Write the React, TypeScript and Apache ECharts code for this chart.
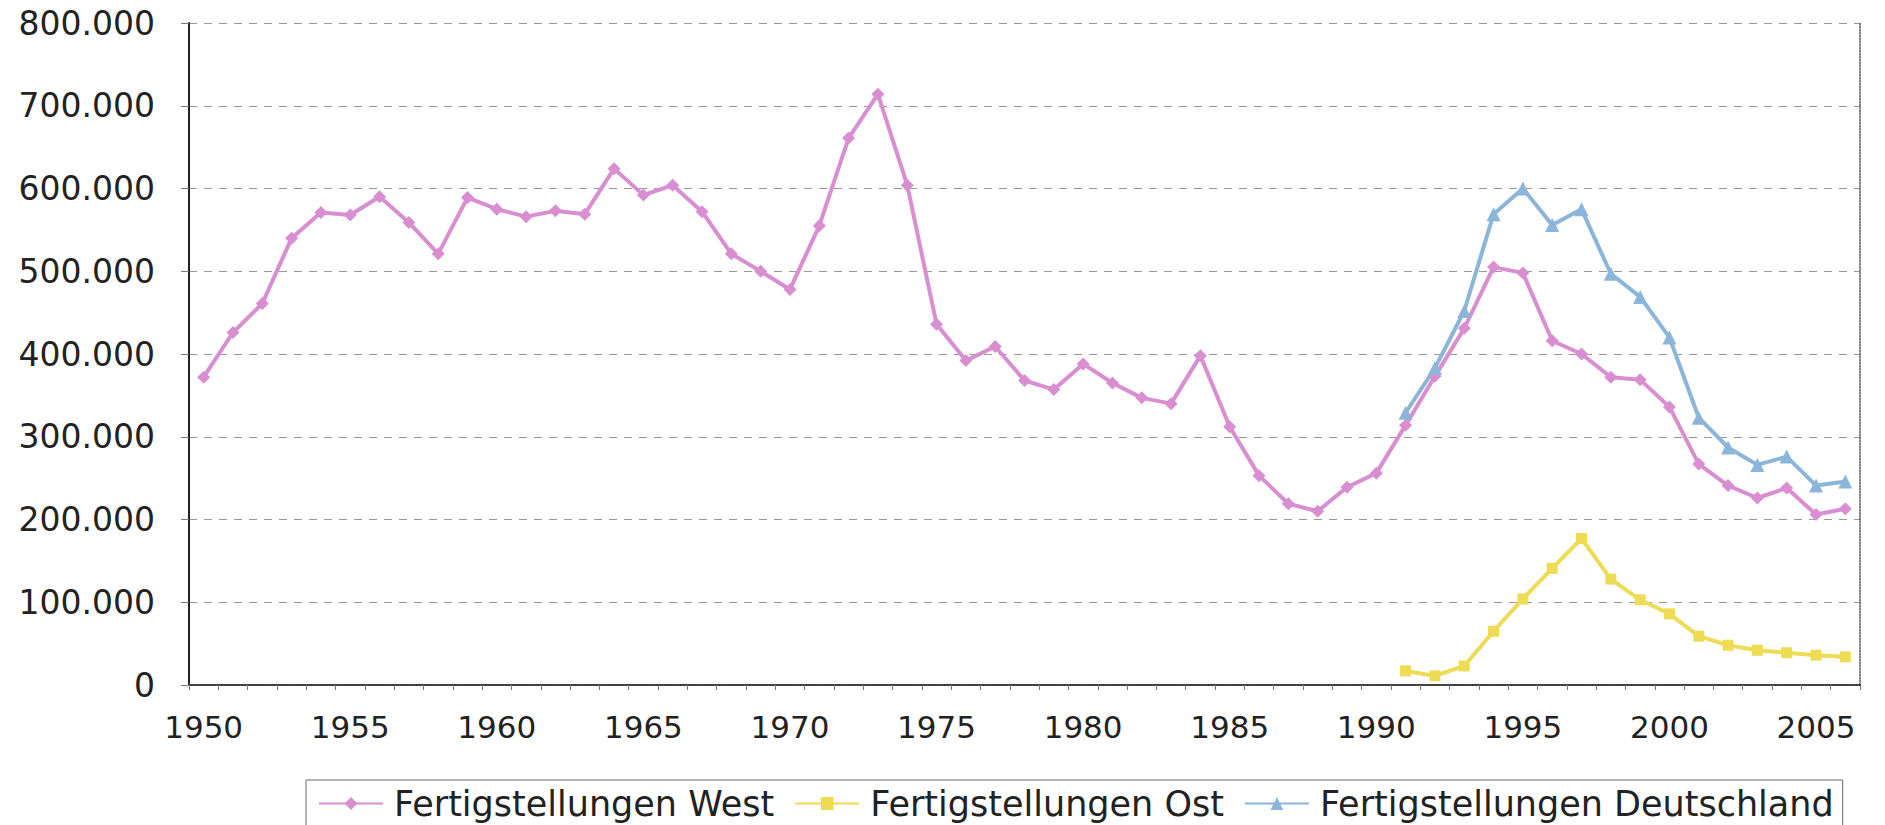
import React, { useEffect, useRef } from "react";
import * as echarts from "echarts";

const years = [
  "1950","1951","1952","1953","1954","1955","1956","1957","1958","1959",
  "1960","1961","1962","1963","1964","1965","1966","1967","1968","1969",
  "1970","1971","1972","1973","1974","1975","1976","1977","1978","1979",
  "1980","1981","1982","1983","1984","1985","1986","1987","1988","1989",
  "1990","1991","1992","1993","1994","1995","1996","1997","1998","1999",
  "2000","2001","2002","2003","2004","2005","2006",
];

const west = [
  372000, 426000, 461000, 540000, 571000, 568000, 590000, 559000, 521000, 589000,
  575000, 566000, 573000, 569000, 624000, 592000, 604000, 572000, 521000, 500000,
  478000, 555000, 661000, 714000, 604000, 436000, 392000, 409000, 368000, 357000,
  388000, 365000, 347000, 340000, 398000, 312000, 253000, 219000, 210000, 239000,
  256000, 314000, 373000, 431000, 505000, 498000, 416000, 400000, 372000, 369000,
  336000, 267000, 241000, 226000, 238000, 206000, 213000,
];

// 1991-2006
const ostValues = [17000, 11000, 23000, 65000, 104000, 141000, 177000, 128000, 103000, 86000, 59000, 48000, 42000, 39000, 36000, 34000];
const deutschlandValues = [329000, 383000, 452000, 569000, 600000, 556000, 575000, 497000, 469000, 420000, 323000, 287000, 266000, 276000, 241000, 246000];
const eastStartYear = "1991";

const yTicks = { min: 0, max: 800000, interval: 100000 };

const seriesNames = ["Fertigstellungen West", "Fertigstellungen Ost", "Fertigstellungen Deutschland"];

function padFrom(startYear: string, values: number[]) {
  const idx = years.indexOf(startYear);
  const out: (number | null)[] = [];
  for (let i = 0; i < years.length; i++) {
    out.push(i >= idx && i - idx < values.length ? values[i - idx] : null);
  }
  return out;
}

function fmt(v: number) {
  if (v === 0) return "0";
  const s = String(Math.round(v));
  return s.replace(/\B(?=(\d{3})+(?!\d))/g, ".");
}

const FONT = "DejaVu Sans";

export default function App() {
  const ref = useRef<HTMLDivElement>(null);
  useEffect(() => {
    if (!ref.current) return;
    const chart = echarts.init(ref.current, undefined, { renderer: "svg" });
    const colors = ["#d98ed2", "#eedc55", "#8cb5da"];
    chart.setOption({
      animation: false,
      backgroundColor: "#ffffff",
      color: colors,
      grid: { left: 189, right: 25, top: 23, bottom: 140, containLabel: false },
      legend: {
        data: seriesNames,
        left: 306,
        top: 780,
        padding: [6, 9, 20, 12],
        borderColor: "#666",
        borderWidth: 1,
        itemWidth: 64,
        itemHeight: 16,
        itemGap: 20,
        textStyle: { fontFamily: FONT, fontSize: 35, color: "#222", padding: [0, 0, 0, 6] },
      },
      xAxis: [
        {
          type: "category",
          data: years,
          boundaryGap: true,
          axisLine: { lineStyle: { color: "#222", width: 2 } },
          axisTick: { show: true, interval: 0, length: 5, lineStyle: { color: "#777" } },
          axisLabel: { interval: 4, fontFamily: FONT, fontSize: 31, color: "#222", margin: 26 },
          splitLine: { show: false },
        },
        {
          type: "category",
          data: years,
          position: "top",
          boundaryGap: true,
          axisLine: { show: true, lineStyle: { color: "#555", width: 1.5, type: "dotted" } },
          axisTick: { show: false },
          axisLabel: { show: false },
        },
      ],
      yAxis: [
        {
          type: "value",
          min: yTicks.min,
          max: yTicks.max,
          interval: yTicks.interval,
          axisLine: { show: true, lineStyle: { color: "#222", width: 2 } },
          axisTick: { show: true, length: 8, lineStyle: { color: "#777" } },
          axisLabel: { fontFamily: FONT, fontSize: 33, color: "#222", margin: 34, formatter: (v: number) => fmt(v) },
          splitLine: { show: true, lineStyle: { color: "#999", width: 1, type: [8, 7] } },
        },
        {
          type: "value",
          position: "right",
          min: yTicks.min,
          max: yTicks.max,
          interval: yTicks.interval,
          axisLine: { show: true, lineStyle: { color: "#555", width: 1.5, type: "dotted" } },
          axisTick: { show: false },
          axisLabel: { show: false },
          splitLine: { show: false },
        },
      ],
      series: [
        {
          name: seriesNames[0],
          type: "line",
          data: west,
          symbol: "diamond",
          symbolSize: 13,
          lineStyle: { width: 4, color: colors[0] },
          itemStyle: { color: colors[0] },
        },
        {
          name: seriesNames[1],
          type: "line",
          data: padFrom(eastStartYear, ostValues),
          symbol: "rect",
          symbolSize: 11,
          lineStyle: { width: 4, color: colors[1] },
          itemStyle: { color: colors[1] },
        },
        {
          name: seriesNames[2],
          type: "line",
          data: padFrom(eastStartYear, deutschlandValues),
          symbol: "triangle",
          symbolSize: 14,
          lineStyle: { width: 4, color: colors[2] },
          itemStyle: { color: colors[2] },
        },
      ],
    });
    return () => chart.dispose();
  }, []);
  return (
    <div
      ref={ref}
      style={{ position: "absolute", left: 0, top: 0, width: 1885, height: 825, background: "#fff" }}
    />
  );
}
